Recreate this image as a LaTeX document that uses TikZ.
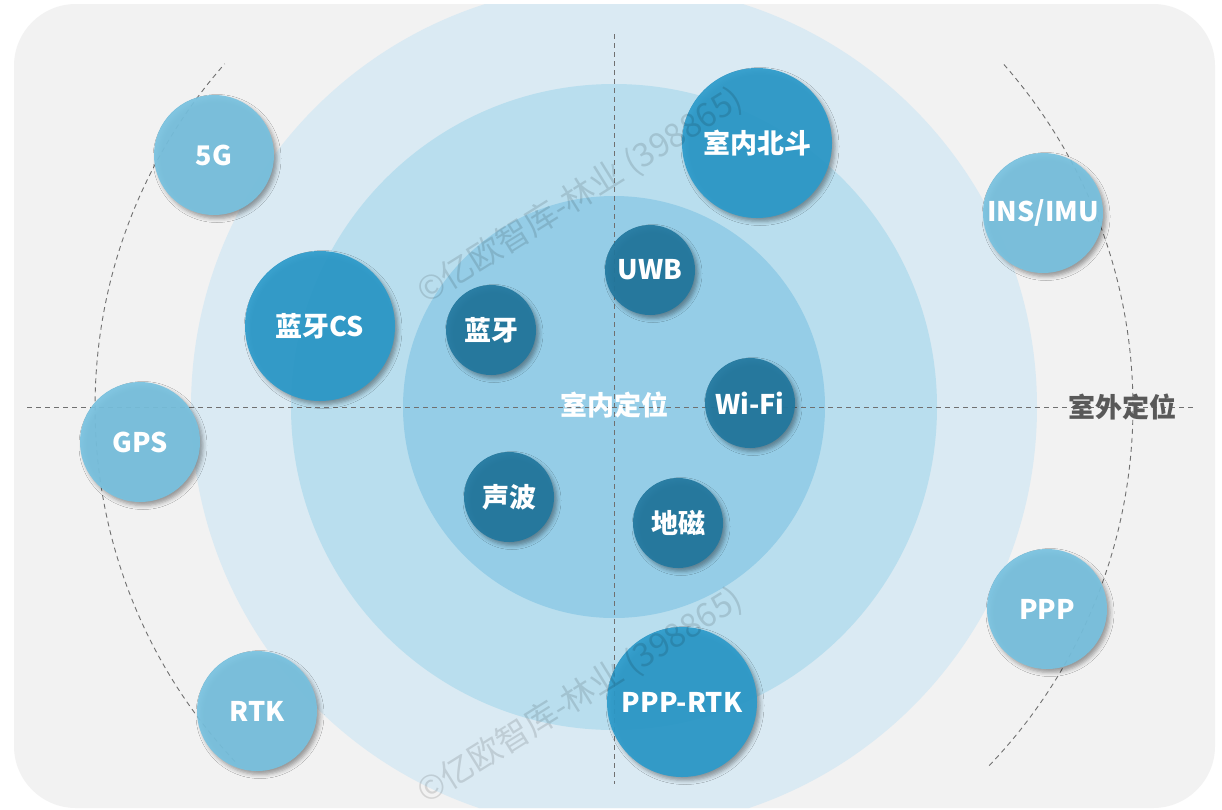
\documentclass[tikz,border=0pt]{standalone}
\usepackage{fontspec}
\setmainfont{Noto Sans CJK SC}
\usetikzlibrary{shadows.blur}
\definecolor{bggray}{HTML}{F2F2F2}
\definecolor{ringA}{HTML}{DAEAF3}
\definecolor{ringB}{HTML}{B9DEEE}
\definecolor{ringC}{HTML}{95CDE7}
\definecolor{clight}{HTML}{78C2E0}
\definecolor{cmed}{HTML}{2C9BCB}
\definecolor{cdark}{HTML}{22789F}
\definecolor{dashgray}{HTML}{707070}
\definecolor{txtgray}{HTML}{595959}
\tikzset{
  bubble/.style={circle, inner sep=0pt, text=white, fill opacity=0.92, text opacity=1,
    font=\bfseries\fontsize{27}{27}\selectfont,
    blur shadow={shadow xshift=3pt, shadow yshift=-3.5pt, shadow blur radius=4pt, shadow opacity=40}},
  lnode/.style={bubble, fill=clight, minimum size=120pt},
  mnode/.style={bubble, fill=cmed, minimum size=150pt},
  dnode/.style={bubble, fill=cdark, minimum size=90pt},
  dline/.style={draw=dashgray, line width=0.9pt, dash pattern=on 5pt off 4pt},
  wmark/.style={text=black, text opacity=0.12, font=\fontsize{33}{33}\selectfont, rotate=32},
  lbl/.style={font=\bfseries\fontsize{27}{27}\selectfont}
}
\begin{document}
\begin{tikzpicture}[x=1pt,y=-1pt]
\useasboundingbox (0,0) rectangle (1222,809);
\fill[white] (0,0) rectangle (1222,809);
\fill[bggray, rounded corners=62pt] (14,4) rectangle (1215,808);
\coordinate (c) at (614,407);
\begin{scope}
  \clip[rounded corners=62pt] (14,4) rectangle (1215,808);
  \fill[ringA] (c) circle (423);
  \fill[ringB] (c) circle (323);
  \fill[ringC] (c) circle (211);
\end{scope}
% dashed axes
\coordinate (hl) at (27,407);
\coordinate (hr) at (1196,407);
\coordinate (vt) at (614,34);
\coordinate (vb) at (614,784);
\draw[dline] (hl) -- (hr);
\draw[dline] (vt) -- (vb);
% dashed outer arcs
\draw[dline] (c) ++(136.9:519) arc[start angle=136.9, end angle=221.4, radius=519];
\draw[dline] (c) ++(-41.3:519) arc[start angle=-41.3, end angle=43.9, radius=519];
% outer nodes
\node[lnode] (n5g) at (214,155) {5G};
\node[lnode] (gps) at (140,442) {GPS};
\node[lnode] (rtk) at (257,711) {RTK};
\node[lnode] (ins) at (1043,213) {INS/IMU};
\node[lnode] (ppp) at (1047,609) {PPP};
% medium nodes
\node[mnode] (bd) at (757,143) {室内北斗};
\node[mnode] (btcs) at (320,326) {蓝牙CS};
\node[mnode] (ppprtk) at (682,702) {PPP-RTK};
% dark nodes
\node[dnode] (uwb) at (650,270) {UWB};
\node[dnode] (bt) at (491,330) {蓝牙};
\node[dnode] (wifi) at (750,403) {Wi-Fi};
\node[dnode] (sb) at (509,497) {声波};
\node[dnode] (dc) at (678,523) {地磁};
% labels
\node[lbl, text=white] (indoor) at (614,405) {室内定位};
\node[lbl, text=txtgray] (outdoor) at (1122,407) {室外定位};
% watermarks (on top)
\node[wmark] (wm1) at (580,196) {©亿欧智库-林业 (398865)};
\node[wmark] (wm2) at (580,696) {©亿欧智库-林业 (398865)};
\end{tikzpicture}
\end{document}
